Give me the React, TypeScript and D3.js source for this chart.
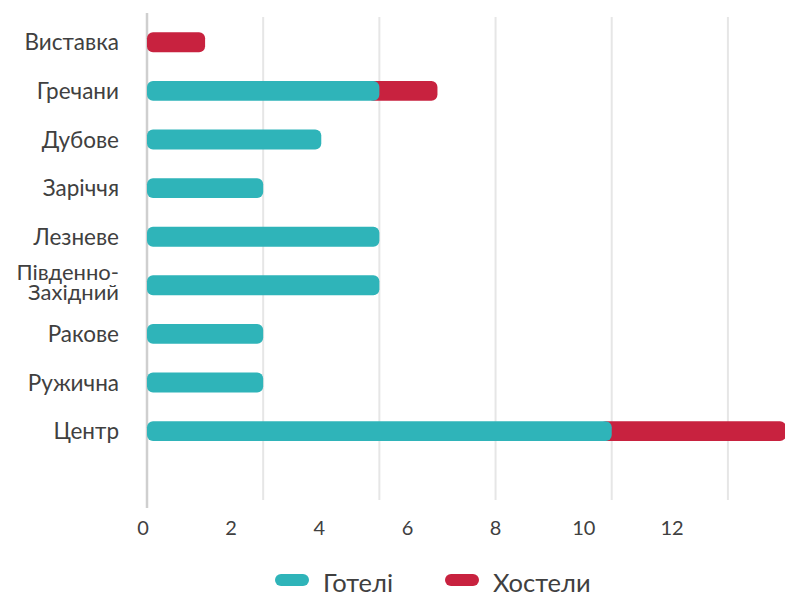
import React from "react";
import * as d3 from "d3";

const categories = [
  "Виставка",
  "Гречани",
  "Дубове",
  "Заріччя",
  "Лезневе",
  "Південно-\nЗахідний",
  "Ракове",
  "Ружична",
  "Центр",
];
const hotels = [0, 4, 3, 2, 4, 4, 2, 2, 8];
const hostels = [1, 1, 0, 0, 0, 0, 0, 0, 3];
const tickLabels = [0, 2, 4, 6, 8, 10, 12];
const gridValues = [2, 4, 6, 8, 10];
const seriesNames = ["Готелі", "Хостели"];
const colors = ["#2fb4b9", "#c8223f"];

const W = 785;
const H = 596;
const FONT = "Lato, 'Noto Sans', sans-serif";

export default function App() {
  const x = d3.scaleLinear().domain([0, 11]).range([147, 786]);
  const xLabel = d3.scaleLinear().domain([0, 12]).range([143, 672]);
  const y = d3
    .scaleBand<string>()
    .domain(categories)
    .range([18, 455.4])
    .paddingInner(0.59)
    .paddingOuter(0.295);
  const bw = y.bandwidth();
  const r = 6;

  const stacked = categories.map((c, i) => ({ c, h: hotels[i], s: hostels[i] }));

  return (
    <svg
      width={W}
      height={H}
      style={{ position: "absolute", left: 0, top: 0, background: "#fff" }}
      fontFamily={FONT}
    >
      {gridValues.map((v) => (
        <line
          key={v}
          x1={x(v)}
          x2={x(v)}
          y1={17}
          y2={500}
          stroke="#e6e6e6"
          strokeWidth={2}
        />
      ))}
      <line x1={x(0)} x2={x(0)} y1={13} y2={508} stroke="#cfcfcf" strokeWidth={2.5} />

      {stacked.map((d) => {
        const y0 = y(d.c)!;
        return (
          <g key={d.c}>
            {d.s > 0 && (
              <rect
                x={d.h > 0 ? x(d.h) - r * 2 : x(0)}
                y={y0}
                width={d.h > 0 ? x(d.h + d.s) - x(d.h) + r * 2 : x(d.s) - x(0)}
                height={bw}
                rx={r}
                fill={colors[1]}
              />
            )}
            {d.h > 0 && (
              <rect
                x={x(0)}
                y={y0}
                width={x(d.h) - x(0)}
                height={bw}
                rx={r}
                fill={colors[0]}
              />
            )}
          </g>
        );
      })}

      {categories.map((c) => {
        const cy = y(c)! + bw / 2;
        const lines = c.split("\n");
        if (lines.length === 1) {
          return (
            <text
              key={c}
              x={119}
              y={cy + 8}
              textAnchor="end"
              fontSize={22.5}
              fill="#404040"
            >
              {c}
            </text>
          );
        }
        return (
          <text key={c} x={119} textAnchor="end" fontSize={22} fill="#404040">
            <tspan x={119} y={cy - 5}>
              {lines[0]}
            </tspan>
            <tspan x={119} y={cy + 15}>
              {lines[1]}
            </tspan>
          </text>
        );
      })}

      {tickLabels.map((t) => (
        <text
          key={t}
          x={xLabel(t)}
          y={535}
          textAnchor="middle"
          fontSize={20}
          fill="#404040"
        >
          {t}
        </text>
      ))}

      {seriesNames.map((n, i) => {
        const lx = i === 0 ? 275 : 445;
        return (
          <g key={n}>
            <rect x={lx} y={574} width={34} height={12} rx={6} fill={colors[i]} />
            <text x={lx + 48} y={592} fontSize={25.5} fill="#404040">
              {n}
            </text>
          </g>
        );
      })}
    </svg>
  );
}
